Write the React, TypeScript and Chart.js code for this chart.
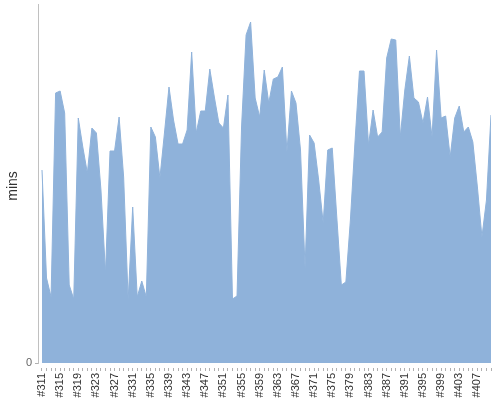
import React, { useEffect, useRef } from "react";
import { Chart, registerables } from "chart.js";

Chart.register(...registerables);

const categories: string[] = [
  "#311","#312","#313","#314","#315","#316","#317","#318","#319","#320",
  "#321","#322","#323","#324","#325","#326","#327","#328","#329","#330",
  "#331","#332","#333","#334","#335","#336","#337","#338","#339","#340",
  "#341","#342","#343","#344","#345","#346","#347","#348","#349","#350",
  "#351","#352","#353","#354","#355","#356","#357","#358","#359","#360",
  "#361","#362","#363","#364","#365","#366","#367","#368","#369","#370",
  "#371","#372","#373","#374","#375","#376","#377","#378","#379","#380",
  "#381","#382","#383","#384","#385","#386","#387","#388","#389","#390",
  "#391","#392","#393","#394","#395","#396","#397","#398","#399","#400",
  "#401","#402","#403","#404","#405","#406","#407","#408","#409","#410",
];

const mins: number[] = [
  193, 85, 66, 270, 272, 250, 78, 64, 245, 216,
  190, 235, 230, 173, 90, 212, 212, 246, 186, 63,
  156, 66, 82, 66, 236, 226, 185, 230, 276, 243,
  219, 219, 233, 311, 230, 252, 252, 294, 266, 240,
  235, 268, 64, 67, 236, 328, 341, 265, 246, 293,
  260, 284, 286, 296, 211, 272, 260, 213, 95, 228,
  220, 183, 140, 213, 215, 146, 78, 81, 143, 220,
  292, 292, 218, 253, 226, 231, 305, 324, 323, 226,
  273, 307, 265, 261, 240, 266, 226, 313, 245, 247,
  206, 245, 257, 231, 236, 221, 176, 126, 163, 248,
];

const yTickValues: number[] = [0];
const labelEvery = 4;

const yAxisLine = {
  id: "yAxisLine",
  afterDraw(chart: any) {
    const { ctx, chartArea, scales } = chart;
    const y0 = scales.y.getPixelForValue(0);
    ctx.save();
    ctx.strokeStyle = "#c0c0c0";
    ctx.lineWidth = 1;
    ctx.beginPath();
    ctx.moveTo(chartArea.left - 0.5, chartArea.top);
    ctx.lineTo(chartArea.left - 0.5, y0 + 1);
    ctx.stroke();
    ctx.restore();
  },
};

export default function App() {
  const ref = useRef<HTMLCanvasElement | null>(null);
  useEffect(() => {
    if (!ref.current) return;
    const chart = new Chart(ref.current, {
      type: "line",
      data: {
        datasets: [
          {
            label: "mins",
            data: mins.map((v, i) => ({ x: i, y: v })),
            fill: "origin",
            backgroundColor: "#8FB2DA",
            borderColor: "#8FB2DA",
            borderWidth: 1,
            pointRadius: 0,
            tension: 0,
          },
        ],
      },
      plugins: [yAxisLine],
      options: {
        animation: false,
        responsive: true,
        maintainAspectRatio: false,
        layout: { padding: { top: 4, right: 9, left: 0, bottom: 0 } },
        plugins: { legend: { display: false }, tooltip: { enabled: false } },
        scales: {
          x: {
            type: "linear",
            min: -0.66,
            max: 99,
            afterBuildTicks: (scale: any) => {
              scale.ticks = categories.map((_, i) => ({ value: i }));
            },
            afterFit: (scale: any) => {
              scale.height = 32;
              scale.paddingLeft = 0;
              scale.paddingRight = 0;
            },
            border: { display: false },
            grid: {
              drawOnChartArea: false,
              drawTicks: true,
              tickLength: 3,
              color: "#b0b0b0",
            },
            ticks: {
              autoSkip: false,
              maxRotation: 90,
              minRotation: 90,
              padding: 2,
              color: "#333333",
              font: { family: "Liberation Sans, Arial, sans-serif", size: 11 },
              callback: (v: any) => {
                const i = Math.round(Number(v));
                return i % labelEvery === 0 ? categories[i] : "";
              },
            },
          },
          y: {
            min: -5,
            max: 359,
            afterBuildTicks: (scale: any) => {
              scale.ticks = yTickValues.map((v) => ({ value: v }));
            },
            afterFit: (scale: any) => {
              scale.width = 39;
              scale.paddingTop = 0;
              scale.paddingBottom = 0;
            },
            border: { display: false },
            grid: {
              drawOnChartArea: false,
              drawTicks: true,
              tickLength: 4,
              color: "#b0b0b0",
            },
            title: {
              display: true,
              text: "mins",
              color: "#333333",
              font: { family: "Liberation Sans, Arial, sans-serif", size: 14 },
              padding: { top: 5, bottom: 2 },
            },
            ticks: {
              padding: 3,
              color: "#666666",
              font: { family: "Liberation Sans, Arial, sans-serif", size: 11 },
            },
          },
        },
      },
    });
    return () => chart.destroy();
  }, []);
  return (
    <div style={{ position: "fixed", left: 0, top: 0, width: 500, height: 400 }}>
      <canvas ref={ref} />
    </div>
  );
}
